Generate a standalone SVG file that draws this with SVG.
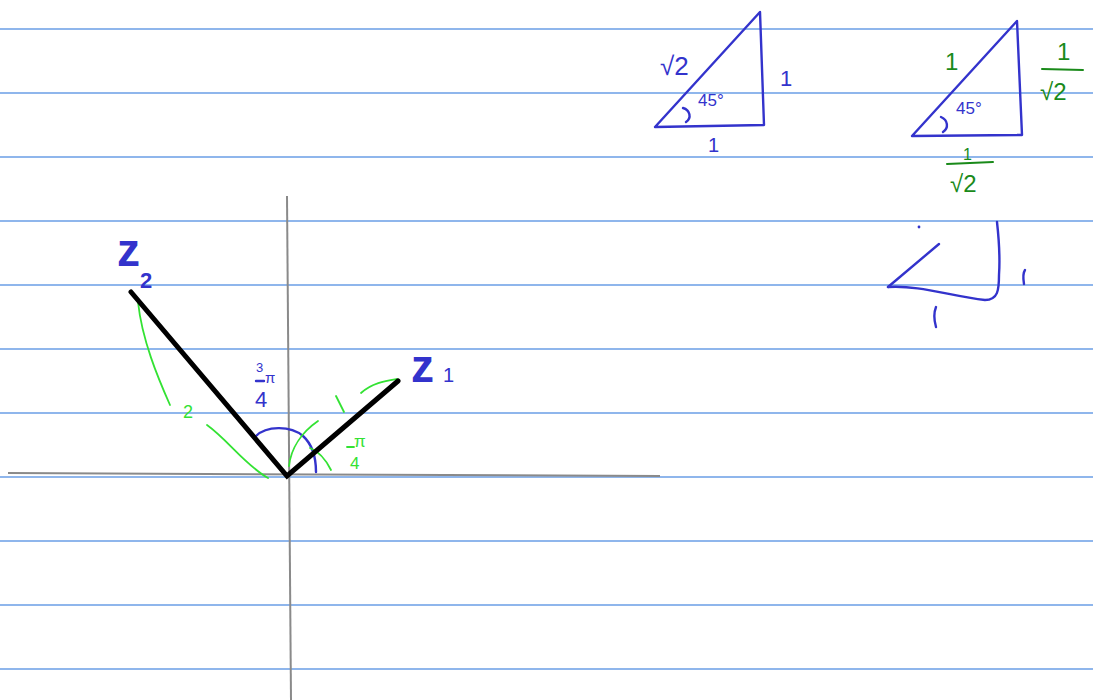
<svg xmlns="http://www.w3.org/2000/svg" width="1093" height="700" viewBox="0 0 1093 700">
<style>
.rule{stroke:#6a9ee6;stroke-width:1.3}
.axis{stroke:#8a8a8a;stroke-width:2;fill:none}
.ink{stroke:#3333cc;stroke-width:2.4;fill:none;stroke-linecap:round;stroke-linejoin:round}
.grn{stroke:#33e233;stroke-width:1.8;fill:none;stroke-linecap:round}
.dg{stroke:#1a8a1a;stroke-width:2;fill:none;stroke-linecap:round}
.vec{stroke:#000;stroke-width:5;stroke-linecap:round;fill:none}
.tb{font-family:"Liberation Sans",sans-serif;fill:#3333cc}
.tg{font-family:"Liberation Sans",sans-serif;fill:#33e233}
.td{font-family:"Liberation Sans",sans-serif;fill:#1a8a1a}
</style>
<rect width="1093" height="700" fill="#fff"/>
<g id="rules">
<line class="rule" x1="0" y1="29" x2="1093" y2="29"/>
<line class="rule" x1="0" y1="93" x2="1093" y2="93"/>
<line class="rule" x1="0" y1="157" x2="1093" y2="157"/>
<line class="rule" x1="0" y1="221" x2="1093" y2="221"/>
<line class="rule" x1="0" y1="285" x2="1093" y2="285"/>
<line class="rule" x1="0" y1="349" x2="1093" y2="349"/>
<line class="rule" x1="0" y1="413" x2="1093" y2="413"/>
<line class="rule" x1="0" y1="477" x2="1093" y2="477"/>
<line class="rule" x1="0" y1="541" x2="1093" y2="541"/>
<line class="rule" x1="0" y1="605" x2="1093" y2="605"/>
<line class="rule" x1="0" y1="669" x2="1093" y2="669"/>
</g>
<g id="axes">
<line class="axis" x1="8" y1="473" x2="660" y2="476"/>
<line class="axis" x1="287" y1="196" x2="291" y2="700"/>
</g>
<g id="angles">
<path class="ink" d="M256,436 C266,426 290,425 303,436 C314,446 316,460 316,472"/>
<path class="grn" d="M289,466 C291,448 302,432 318,421"/>
<path class="grn" d="M310,448 C320,452 326,460 331,470"/>
<path class="grn" d="M138,302 C142,340 158,378 170,405"/>
<path class="grn" d="M207,425 C228,440 245,465 268,478"/>
<path class="grn" d="M336,396 L344,412"/>
<path class="grn" d="M361,393 C372,383 385,381 397,379"/>
</g>
<g id="vectors">
<path class="vec" d="M131,292 L287,476 L398,381"/>
</g>
<g id="labels">
<text class="tb" x="117" y="266" font-size="46" font-weight="bold">z</text>
<text class="tb" x="140" y="288" font-size="22" font-weight="bold">2</text>
<text class="tb" x="411" y="382" font-size="46" font-weight="bold">z</text>
<text class="tb" x="443" y="382" font-size="20">1</text>
<text class="tb" x="256" y="372" font-size="13">3</text>
<text class="tb" x="265" y="383" font-size="15">π</text>
<line class="ink" x1="256" y1="381" x2="264" y2="381" stroke-width="1.5"/>
<text class="tb" x="255" y="407" font-size="22">4</text>
<text class="tg" x="183" y="418" font-size="18">2</text>
<text class="tg" x="354" y="447" font-size="17">π</text>
<line class="grn" x1="347" y1="447" x2="354" y2="447"/>
<text class="tg" x="350" y="469" font-size="17">4</text>
</g>
<g id="triangle1">
<path class="ink" d="M655,127 L760,12 L764,125 Z"/>
<path class="ink" d="M683,108 C690,110 692,118 686,122"/>
<text class="tb" x="660" y="75" font-size="26">√2</text>
<text class="tb" x="780" y="86" font-size="22">1</text>
<text class="tb" x="708" y="152" font-size="20">1</text>
<text class="tb" x="698" y="106" font-size="17">45°</text>
</g>
<g id="triangle2">
<path class="ink" d="M912,136 L1017,21 L1022,135 Z"/>
<path class="ink" d="M941,117 C948,120 949,128 943,132"/>
<text class="tb" x="956" y="114" font-size="17">45°</text>
<text class="td" x="945" y="70" font-size="24">1</text>
<text class="td" x="1057" y="60" font-size="24">1</text>
<line class="dg" x1="1042" y1="69" x2="1083" y2="70"/>
<text class="td" x="1040" y="100" font-size="24">√2</text>
<text class="td" x="963" y="160" font-size="16">1</text>
<line class="dg" x1="947" y1="164" x2="993" y2="162"/>
<text class="td" x="950" y="192" font-size="24">√2</text>
</g>
<g id="sketch3">
<path class="ink" d="M888,287 L939,244"/>
<circle cx="919" cy="227" r="1.4" fill="#3333cc"/>
<path class="ink" d="M888,287 C920,285 950,296 985,300 C998,300 999,290 999,275 C1000,260 999,240 997,222"/>
<path class="ink" d="M1025,270 C1023,273 1023,278 1024,284"/>
<path class="ink" d="M936,307 C934,312 934,320 936,327"/>
</g>
</svg>
